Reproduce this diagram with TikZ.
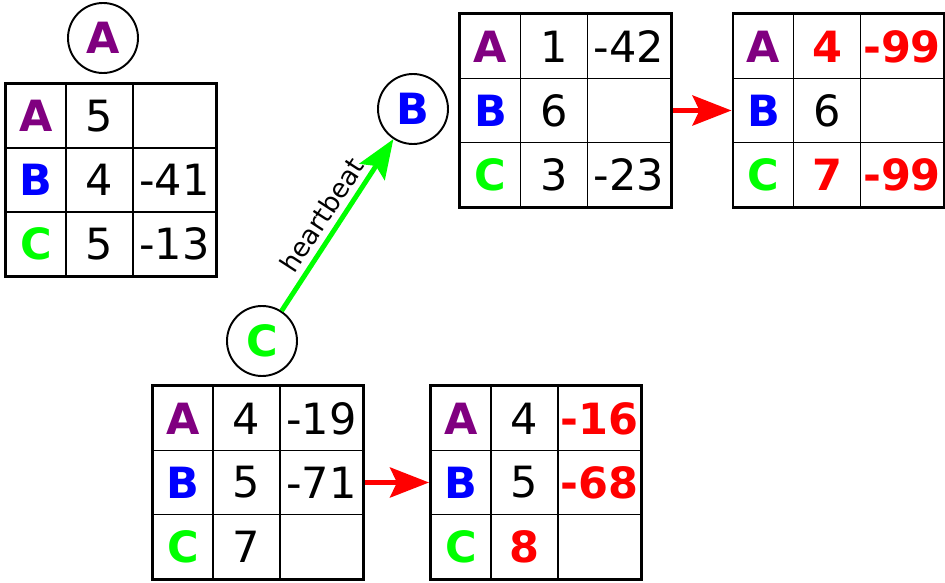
\documentclass[tikz,border=0pt]{standalone}
\usepackage{fontspec}
\setmainfont{DejaVu Sans}
\usepackage{tikz}
\usetikzlibrary{matrix, arrows.meta, positioning}

\definecolor{vpurple}{RGB}{128,0,128}
\definecolor{vblue}{RGB}{0,0,255}
\definecolor{vgreen}{RGB}{0,255,0}
\definecolor{vred}{RGB}{255,0,0}
\newcommand{\cellfont}{\fontsize{24.5}{28}\selectfont}

\tikzstyle{peer} = [circle, draw=black, line width=1.1pt, minimum size=1.4cm, inner sep=0pt, font=\cellfont\bfseries]
\tikzstyle{vtable} = [matrix of nodes, nodes in empty cells, draw=black, line width=1.6pt, inner sep=0pt, column sep=-0.7pt, row sep=-0.7pt, nodes={draw=black, line width=0.7pt, minimum height=1.28cm, inner sep=0pt, anchor=center, font=\cellfont}, column 1/.style={nodes={minimum width=1.2cm}}, column 2/.style={nodes={minimum width=1.34cm}}, column 3/.style={nodes={minimum width=1.66cm}}]
\tikzstyle{ka} = [text=vpurple, font=\cellfont\bfseries]
\tikzstyle{kb} = [text=vblue, font=\cellfont\bfseries]
\tikzstyle{kc} = [text=vgreen, font=\cellfont\bfseries]
\tikzstyle{chg} = [text=vred, font=\cellfont\bfseries]
\tikzstyle{arrow} = [line width=2.8pt, -{Stealth[length=0.78cm, width=0.6cm, inset=0.14cm]}]

\begin{document}
\begin{tikzpicture}
        \useasboundingbox (0,0) rectangle (18.9,11.66);

        % Peer A and its vector
        \node (pa) [peer, text=vpurple] at (2.06,10.90) {A};
        \matrix (ta) [vtable] at (2.22,8.06) {
            |[ka]| A & 5 & \\
            |[kb]| B & 4 & -41 \\
            |[kc]| C & 5 & -13 \\
        };

        % Peer B, before and after merge
        \node (pb) [peer, text=vblue] at (8.26,9.48) {B};
        \matrix (tb) [vtable] at (11.31,9.45) {
            |[ka]| A & 1 & -42 \\
            |[kb]| B & 6 & \\
            |[kc]| C & 3 & -23 \\
        };
        \matrix (tb2) [vtable, right=1.18cm of tb] {
            |[ka]| A & |[chg]| 4 & |[chg]| -99 \\
            |[kb]| B & 6 & \\
            |[kc]| C & |[chg]| 7 & |[chg]| -99 \\
        };

        % Peer C, before and after sending
        \node (pc) [peer, text=vgreen] at (5.24,4.84) {C};
        \matrix (tc) [vtable] at (5.16,2.01) {
            |[ka]| A & 4 & -19 \\
            |[kb]| B & 5 & -71 \\
            |[kc]| C & 7 & \\
        };
        \matrix (tc2) [vtable, right=1.28cm of tc] {
            |[ka]| A & 4 & |[chg]| -16 \\
            |[kb]| B & 5 & |[chg]| -68 \\
            |[kc]| C & |[chg]| 8 & \\
        };

        % Arrows
        \draw [arrow, vgreen] (pc) -- node [sloped, above, text=black, font=\fontsize{15}{18}\selectfont] {heartbeat} (pb);
        \draw [arrow, vred] (tb.east) -- (tb2.west);
        \draw [arrow, vred] (tc.east) -- (tc2.west);
    \end{tikzpicture}
\end{document}
